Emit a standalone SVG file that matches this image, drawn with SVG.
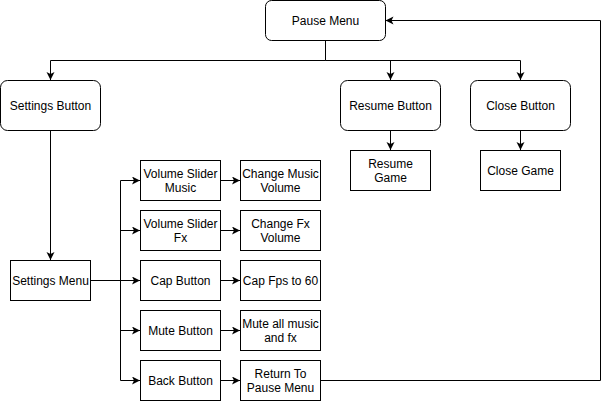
<svg xmlns="http://www.w3.org/2000/svg" width="609" height="401" viewBox="0 0 609 401">
<style>
.b{fill:#fff;stroke:#000;stroke-width:1}
.t{font-family:"Liberation Sans",Arial,sans-serif;font-size:12px;fill:#000;text-anchor:middle}
.c{fill:none;stroke:#000;stroke-width:1}
</style>
<defs>
<marker id="arr" markerUnits="userSpaceOnUse" markerWidth="9" markerHeight="9" refX="8" refY="4" orient="auto">
<path d="M0,0 L8,4 L0,8 L2,4 Z" fill="#000"/>
</marker>
</defs>
<rect width="609" height="401" fill="#fff"/>
<g id="connectors">
<path class="c" d="M325.5 40.5 V60.5 H50.5 V80" marker-end="url(#arr)"/>
<path class="c" d="M325.5 60.5 H390.5 V80" marker-end="url(#arr)"/>
<path class="c" d="M325.5 60.5 H520.5 V80" marker-end="url(#arr)"/>
<path class="c" d="M390.5 130.5 V150" marker-end="url(#arr)"/>
<path class="c" d="M520.5 130.5 V150" marker-end="url(#arr)"/>
<path class="c" d="M50.5 130.5 V260" marker-end="url(#arr)"/>
<path class="c" d="M90.5 280.5 H120.5 V180.5 H140" marker-end="url(#arr)"/>
<path class="c" d="M90.5 280.5 H120.5 V230.5 H140" marker-end="url(#arr)"/>
<path class="c" d="M90.5 280.5 H140" marker-end="url(#arr)"/>
<path class="c" d="M90.5 280.5 H120.5 V330.5 H140" marker-end="url(#arr)"/>
<path class="c" d="M90.5 280.5 H120.5 V380.5 H140" marker-end="url(#arr)"/>
<path class="c" d="M220.5 180.5 H240" marker-end="url(#arr)"/>
<path class="c" d="M220.5 230.5 H240" marker-end="url(#arr)"/>
<path class="c" d="M220.5 280.5 H240" marker-end="url(#arr)"/>
<path class="c" d="M220.5 330.5 H240" marker-end="url(#arr)"/>
<path class="c" d="M220.5 380.5 H240" marker-end="url(#arr)"/>
<path class="c" d="M320.5 380.5 H600.5 V20.5 H385.5" marker-end="url(#arr)"/>
</g>
<g id="pause-menu"><rect class="b" x="265.5" y="0.5" width="120" height="40" rx="6"/><text class="t" x="325.5" y="24.5">Pause Menu</text></g>
<g id="settings-button"><rect class="b" x="0.5" y="80.5" width="100" height="50" rx="7"/><text class="t" x="50.5" y="109.5">Settings Button</text></g>
<g id="resume-button"><rect class="b" x="340.5" y="80.5" width="100" height="50" rx="7"/><text class="t" x="390.5" y="109.5">Resume Button</text></g>
<g id="close-button"><rect class="b" x="470.5" y="80.5" width="100" height="50" rx="7"/><text class="t" x="520.5" y="109.5">Close Button</text></g>
<g id="resume-game"><rect class="b" x="350.5" y="150.5" width="80" height="40"/><text class="t" x="390.5" y="167.5">Resume</text><text class="t" x="390.5" y="181.5">Game</text></g>
<g id="close-game"><rect class="b" x="480.5" y="150.5" width="80" height="40"/><text class="t" x="520.5" y="174.5">Close Game</text></g>
<g id="settings-menu"><rect class="b" x="10.5" y="260.5" width="80" height="40"/><text class="t" x="50.5" y="284.5">Settings Menu</text></g>
<g id="volume-slider-music"><rect class="b" x="140.5" y="160.5" width="80" height="40"/><text class="t" x="180.5" y="177.5">Volume Slider</text><text class="t" x="180.5" y="191.5">Music</text></g>
<g id="volume-slider-fx"><rect class="b" x="140.5" y="210.5" width="80" height="40"/><text class="t" x="180.5" y="227.5">Volume Slider</text><text class="t" x="180.5" y="241.5">Fx</text></g>
<g id="cap-button"><rect class="b" x="140.5" y="260.5" width="80" height="40"/><text class="t" x="180.5" y="284.5">Cap Button</text></g>
<g id="mute-button"><rect class="b" x="140.5" y="310.5" width="80" height="40"/><text class="t" x="180.5" y="334.5">Mute Button</text></g>
<g id="back-button"><rect class="b" x="140.5" y="360.5" width="80" height="40"/><text class="t" x="180.5" y="384.5">Back Button</text></g>
<g id="change-music-volume"><rect class="b" x="240.5" y="160.5" width="80" height="40"/><text class="t" x="280.5" y="177.5">Change Music</text><text class="t" x="280.5" y="191.5">Volume</text></g>
<g id="change-fx-volume"><rect class="b" x="240.5" y="210.5" width="80" height="40"/><text class="t" x="280.5" y="227.5">Change Fx</text><text class="t" x="280.5" y="241.5">Volume</text></g>
<g id="cap-fps"><rect class="b" x="240.5" y="260.5" width="80" height="40"/><text class="t" x="280.5" y="284.5">Cap Fps to 60</text></g>
<g id="mute-all"><rect class="b" x="240.5" y="310.5" width="80" height="40"/><text class="t" x="280.5" y="327.5">Mute all music</text><text class="t" x="280.5" y="341.5">and fx</text></g>
<g id="return-to-pause"><rect class="b" x="240.5" y="360.5" width="80" height="40"/><text class="t" x="280.5" y="377.5">Return To</text><text class="t" x="280.5" y="391.5">Pause Menu</text></g>
</svg>
